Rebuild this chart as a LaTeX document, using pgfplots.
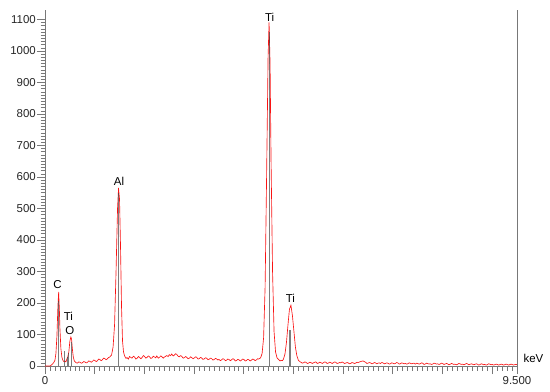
\documentclass[border=0pt]{standalone}
\usepackage{fontspec}
\setmainfont{Liberation Sans}
\usepackage{pgfplots}
\pgfplotsset{compat=1.18}
\usetikzlibrary{calc}
\definecolor{specred}{RGB}{250,20,20}
\definecolor{axgray}{RGB}{120,120,120}
\definecolor{markgray}{RGB}{70,70,70}

\pgfplotstableread{
kev counts
0.00 0
0.05 0
0.10 0
0.12 2
0.15 6
0.18 12
0.20 18
0.22 40
0.24 95
0.26 190
0.275 235
0.29 175
0.30 120
0.32 55
0.34 28
0.36 18
0.38 14
0.40 16
0.42 13
0.44 22
0.46 30
0.48 45
0.50 78
0.52 92
0.535 85
0.55 55
0.57 28
0.59 16
0.62 11
0.65 9
0.68 13
0.70 12
0.73 9
0.75 10
0.78 14
0.80 13
0.83 10
0.85 11
0.88 16
0.90 15
0.93 12
0.95 14
0.98 19
1.00 18
1.03 14
1.05 16
1.08 22
1.10 21
1.13 17
1.15 19
1.18 25
1.20 24
1.23 20
1.25 22
1.28 27
1.30 28
1.34 35
1.37 60
1.40 130
1.43 300
1.46 500
1.48 565
1.50 530
1.52 380
1.54 190
1.56 80
1.58 45
1.60 33
1.63 24
1.65 27
1.68 22
1.70 30
1.73 27
1.75 25
1.78 31
1.80 29
1.83 22
1.85 24
1.88 30
1.90 28
1.93 23
1.95 26
1.98 33
2.00 31
2.03 25
2.05 27
2.08 32
2.10 30
2.13 24
2.15 25
2.18 31
2.20 29
2.23 26
2.25 32
2.28 25
2.30 27
2.33 32
2.35 30
2.38 25
2.40 28
2.43 31
2.45 33
2.48 30
2.50 36
2.53 33
2.55 38
2.58 32
2.60 34
2.63 39
2.65 37
2.68 31
2.70 29
2.73 33
2.75 31
2.78 25
2.80 26
2.83 30
2.85 28
2.88 23
2.90 24
2.93 29
2.95 27
2.98 23
3.00 25
3.03 29
3.05 28
3.08 22
3.10 23
3.13 27
3.15 26
3.18 21
3.20 22
3.23 26
3.25 25
3.28 20
3.30 21
3.33 25
3.35 24
3.38 19
3.40 20
3.43 24
3.45 23
3.48 19
3.50 21
3.53 17
3.55 19
3.58 23
3.60 22
3.63 17
3.65 18
3.68 22
3.70 21
3.73 17
3.75 19
3.78 23
3.80 22
3.83 16
3.85 17
3.88 21
3.90 20
3.93 16
3.95 18
3.98 22
4.00 21
4.03 16
4.05 17
4.08 21
4.10 20
4.13 16
4.15 18
4.18 22
4.20 21
4.23 17
4.25 19
4.28 23
4.30 22
4.34 26
4.37 40
4.40 90
4.43 250
4.46 600
4.49 980
4.51 1091
4.53 960
4.55 650
4.58 300
4.61 110
4.64 45
4.67 26
4.70 21
4.73 16
4.75 18
4.78 17
4.80 22
4.83 38
4.86 75
4.89 130
4.92 180
4.95 193
4.98 160
5.01 110
5.04 60
5.07 32
5.10 18
5.13 14
5.15 12
5.18 9
5.20 10
5.23 13
5.25 12
5.28 8
5.30 9
5.33 12
5.35 11
5.38 8
5.40 10
5.43 12
5.45 13
5.48 8
5.50 9
5.53 12
5.55 11
5.58 8
5.60 10
5.63 13
5.65 12
5.68 8
5.70 9
5.73 12
5.75 11
5.78 8
5.80 10
5.83 13
5.85 12
5.88 8
5.90 9
5.93 11
5.95 10
5.98 13
6.00 11
6.03 8
6.05 9
6.08 11
6.10 10
6.13 7
6.15 8
6.18 11
6.20 10
6.23 8
6.25 9
6.28 12
6.30 11
6.35 14
6.40 16
6.45 12
6.48 8
6.50 9
6.53 11
6.55 10
6.58 7
6.60 8
6.63 11
6.65 10
6.68 7
6.70 9
6.73 10
6.75 8
6.78 11
6.80 10
6.83 7
6.85 8
6.88 10
6.90 9
6.93 6
6.95 7
6.98 10
7.00 9
7.03 7
7.05 8
7.08 11
7.10 10
7.13 6
7.15 7
7.18 10
7.20 9
7.23 7
7.25 8
7.28 6
7.30 7
7.33 10
7.35 9
7.38 7
7.40 8
7.43 9
7.45 6
7.48 9
7.50 8
7.53 6
7.55 7
7.58 10
7.60 9
7.63 5
7.65 6
7.68 9
7.70 8
7.73 6
7.75 7
7.78 5
7.80 6
7.83 9
7.85 8
7.88 6
7.90 7
7.93 5
7.95 6
7.98 9
8.00 8
8.03 5
8.05 6
8.08 8
8.10 7
8.13 4
8.15 5
8.18 8
8.20 7
8.23 5
8.25 6
8.28 4
8.30 5
8.33 8
8.35 7
8.38 5
8.40 6
8.43 4
8.45 5
8.48 8
8.50 7
8.53 4
8.55 5
8.58 7
8.60 6
8.63 4
8.65 5
8.68 7
8.70 6
8.73 3
8.75 4
8.78 7
8.80 6
8.83 4
8.85 5
8.88 3
8.90 4
8.93 7
8.95 6
8.98 4
9.00 5
9.03 3
9.05 4
9.08 6
9.10 5
9.13 3
9.15 4
9.18 6
9.20 5
9.23 3
9.25 4
9.28 6
9.30 5
9.33 3
9.35 4
9.38 6
9.40 5
9.43 3
9.45 4
9.48 5
9.50 4
}\spectrum

% element marker lines (KLM)
\pgfplotstableread{
kev h
0.277 205
0.395 47
0.445 28
0.480 40
0.525 77
1.486 548
4.510 1060
4.932 113
}\markers

\begin{document}
\begin{tikzpicture}
\begin{axis}[
    name=ax,
    scale only axis,
    width=472bp, height=356bp,
    xmin=0, xmax=9.5,
    ymin=0, ymax=1130,
    axis x line*=bottom,
    axis y line*=left,
    axis line style={axgray, line width=0.8bp},
    tick style={axgray, line width=0.6bp},
    tick align=outside,
    major tick length=8bp,
    minor tick length=4.5bp,
    xtick={0,1,2,3,4,5,6,7,8,9,9.5},
    xticklabels={0,{},{},{},{},{},{},{},{},{},9.500},
    minor xtick={0,0.1,...,9.45},
    ytick={0,100,...,1100},
    minor y tick num=9,
    ticklabel style={font=\fontsize{11.5}{13}\selectfont, text=black!85, inner sep=1bp},
    xticklabel style={yshift=-1bp},
    /pgf/number format/assume math mode=true,
    /pgf/number format/fixed,
    /pgf/number format/1000 sep={},
    xlabel={keV},
    every axis x label/.style={at={(rel axis cs:1,0)}, anchor=south west,
        xshift=3bp, yshift=0bp, font=\fontsize{11.5}{13}\selectfont},
    clip=false,
]
\addplot[specred, line width=0.65bp] table[x=kev, y=counts] {\spectrum};
\addplot[ycomb, markgray, line width=1.1bp, opacity=0.7] table[x=kev, y=h] {\markers};
\draw[axgray, line width=0.8bp] (rel axis cs:1,0) -- (rel axis cs:1,1);
\begin{scope}[every node/.style={font=\fontsize{11.5}{13}\selectfont, inner sep=0pt}]
\node at (axis cs:0.25,257) {C};
\node at (axis cs:0.47,159) {Ti};
\node at (axis cs:0.50,114) {O};
\node at (axis cs:1.49,587) {Al};
\node at (axis cs:4.52,1107) {Ti};
\node at (axis cs:4.94,216) {Ti};
\end{scope}
\end{axis}
\pgfresetboundingbox
\path ($(ax.south west)+(-45bp,-26bp)$) rectangle ($(ax.north east)+(33bp,10bp)$);
\end{tikzpicture}
\end{document}
